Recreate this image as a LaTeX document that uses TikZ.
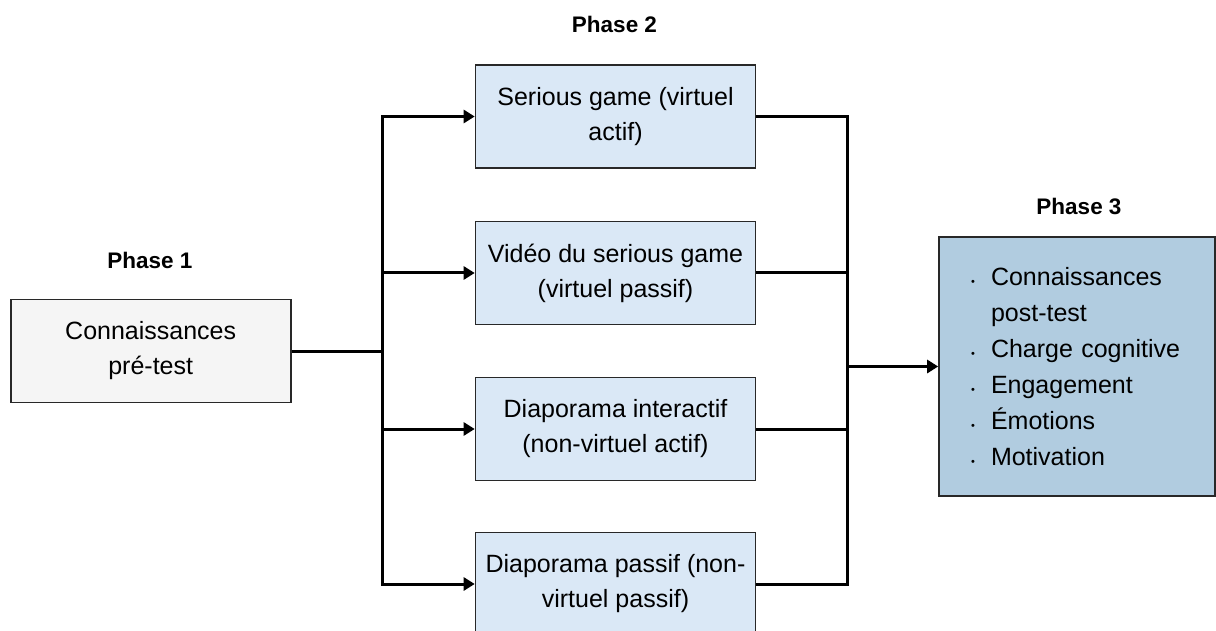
\documentclass[tikz,border=0pt]{standalone}
\usepackage{fontspec}
\setmainfont{Liberation Sans}
\usepackage{tikz}
\usetikzlibrary{positioning, arrows.meta}

\definecolor{phaseone}{RGB}{245,245,245}
\definecolor{phasetwo}{RGB}{218,232,246}
\definecolor{phasethree}{RGB}{177,204,224}
\definecolor{boxborder}{RGB}{40,40,40}

\newcommand{\puce}{\makebox[20pt][l]{\fontsize{11}{11}\selectfont\textbullet}}

\begin{document}
\begin{tikzpicture}[
            x=1pt, y=-1pt,
            >={Triangle[length=11pt, width=13pt]},
            line width=3pt,
            stage/.style={draw=boxborder, line width=1.6pt, rectangle, minimum width=280pt, minimum height=103pt, align=center, font=\fontsize{25}{35}\selectfont},
            phase/.style={font=\fontsize{22.5}{27}\selectfont\bfseries},
        ]

        \useasboundingbox (0,0) rectangle (1216,631);

        % Draw the phase labels
        \node[phase] (L-1) at (150,260) {Phase 1};
        \node[phase] (L-2) at (614.5,24.5) {Phase 2};
        \node[phase] (L-3) at (1079,206) {Phase 3};

        % Draw the pre-test node
        \node[stage, fill=phaseone] (P1) at (150.7,351) {Connaissances\\pré-test};

        % Draw the four conditions
        \foreach \name / \y / \txt in {1/116.5/{Serious game (virtuel\\actif)},
                                       2/273/{Vidéo du serious game\\(virtuel passif)},
                                       3/429/{Diaporama interactif\\(non-virtuel actif)},
                                       4/584/{Diaporama passif (non-\\virtuel passif)}}
        \node[stage, fill=phasetwo] (C-\name) at (615.5,\y) {\txt};

        % Draw the post-test node
        \node[stage, fill=phasethree, minimum width=276pt, minimum height=259pt, text width=212pt, align=left,
              font=\fontsize{25}{36}\selectfont] (P3) at (1077,366.5)
            {\puce Connaissances\\\hspace*{20pt}post-test\\\puce Charge cognitive\\\puce Engagement\\\puce Émotions\\\puce Motivation};

        % Connect the pre-test with every condition
        \coordinate (split) at (382,351);
        \draw (P1.east) -- (split);
        \foreach \name in {1,...,4}
        \draw[->] (split) |- (C-\name.west);

        % Connect every condition with the post-test
        \coordinate (merge) at (847,366.5);
        \foreach \name in {1,...,4}
        \draw (C-\name.east) -| (merge);
        \draw[->] (merge) -- (P3.west);
    \end{tikzpicture}
\end{document}
